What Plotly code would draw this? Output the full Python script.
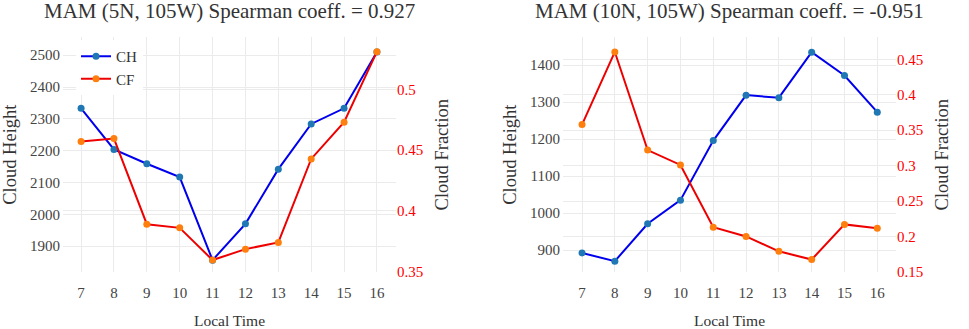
import plotly.graph_objects as go

hours = [7, 8, 9, 10, 11, 12, 13, 14, 15, 16]

ch_5n = [2333, 2204, 2159, 2117, 1856, 1970, 2142, 2284, 2333, 2510]
cf_5n = [0.457, 0.4595, 0.389, 0.386, 0.3595, 0.3685, 0.374, 0.4427, 0.473, 0.531]

ch_10n = [892, 870, 971, 1035, 1196, 1319, 1312, 1435, 1372, 1273]
cf_10n = [0.358, 0.4605, 0.322, 0.301, 0.213, 0.200, 0.179, 0.1674, 0.217, 0.2116]

title_left = "MAM (5N, 105W) Spearman coeff. = 0.927"
title_right = "MAM (10N, 105W) Spearman coeff. = -0.951"

FONT = "Liberation Serif"
CH_LINE, CH_MARK = "#0000ee", "#1f77b4"
CF_LINE, CF_MARK = "#ee0000", "#ff7f0e"
GRID = "#ebebeb"

fig = go.Figure()
fig.add_trace(go.Scatter(x=hours, y=ch_5n, name="CH", mode="lines+markers",
                         line=dict(color=CH_LINE, width=2), marker=dict(color=CH_MARK, size=7),
                         xaxis="x", yaxis="y"))
fig.add_trace(go.Scatter(x=hours, y=cf_5n, name="CF", mode="lines+markers",
                         line=dict(color=CF_LINE, width=2), marker=dict(color=CF_MARK, size=7),
                         xaxis="x", yaxis="y2"))
fig.add_trace(go.Scatter(x=hours, y=ch_10n, name="CH", mode="lines+markers", showlegend=False,
                         line=dict(color=CH_LINE, width=2), marker=dict(color=CH_MARK, size=7),
                         xaxis="x2", yaxis="y3"))
fig.add_trace(go.Scatter(x=hours, y=cf_10n, name="CF", mode="lines+markers", showlegend=False,
                         line=dict(color=CF_LINE, width=2), marker=dict(color=CF_MARK, size=7),
                         xaxis="x2", yaxis="y4"))

W, H = 969, 329
yd = [(H - 279) / H, (H - 38) / H]

tickfont = dict(family=FONT, size=15, color="#444444")
redfont = dict(family=FONT, size=15, color="#ff0000")
titlefont = dict(family=FONT, size=18.5, color="#333333")

common_x = dict(tickvals=hours, showgrid=True, gridcolor=GRID, zeroline=False,
                showline=False, tickfont=tickfont, ticks="", ticklabelstandoff=10,
                title=dict(text="Local Time", font=dict(family=FONT, size=15.5, color="#333333"), standoff=15))
common_y = dict(showgrid=True, gridcolor=GRID, zeroline=False, showline=False, ticks="")

fig.update_layout(
    width=W, height=H, margin=dict(l=0, r=0, t=0, b=0),
    paper_bgcolor="white", plot_bgcolor="white",
    font=dict(family=FONT),
    xaxis=dict(domain=[63 / W, 396 / W], range=[6.45, 16.58], anchor="y", **common_x),
    xaxis2=dict(domain=[563 / W, 896 / W], range=[6.42, 16.57], anchor="y3", **common_x),
    yaxis=dict(domain=yd, range=[1818, 2557], dtick=100, tickfont=tickfont, ticklabelstandoff=2,
               title=dict(text="Cloud Height", font=titlefont, standoff=8), anchor="x", **common_y),
    yaxis2=dict(range=[0.3495, 0.543], dtick=0.05, tick0=0.35, tickfont=redfont, overlaying="y",
                side="right", anchor="x",
                title=dict(text="Cloud Fraction", font=titlefont, standoff=12), **common_y),
    yaxis3=dict(domain=yd, range=[840, 1476], dtick=100, tickfont=tickfont, anchor="x2", ticklabelstandoff=2,
                title=dict(text="Cloud Height", font=titlefont, standoff=8), **common_y),
    yaxis4=dict(range=[0.1495, 0.4815], dtick=0.05, tick0=0.15, tickfont=redfont, overlaying="y3",
                side="right", anchor="x2",
                title=dict(text="Cloud Fraction", font=titlefont, standoff=12), **common_y),
    legend=dict(x=76 / W, y=(H - 41) / H, xanchor="left", yanchor="top",
                bgcolor="white", font=dict(family=FONT, size=15, color="#333333"),
                tracegroupgap=0, itemwidth=30),
    showlegend=True,
    annotations=[
        dict(text=title_left, x=229.5 / W, y=1 - 11 / H, xref="paper", yref="paper",
             xanchor="center", yanchor="middle", showarrow=False,
             font=dict(family=FONT, size=21, color="#333333")),
        dict(text=title_right, x=729.5 / W, y=1 - 11 / H, xref="paper", yref="paper",
             xanchor="center", yanchor="middle", showarrow=False,
             font=dict(family=FONT, size=21, color="#333333")),
    ],
)

fig.write_html("out.html", config={"displayModeBar": False},
               post_script="document.body.style.margin='0';document.body.style.overflow='hidden';")
